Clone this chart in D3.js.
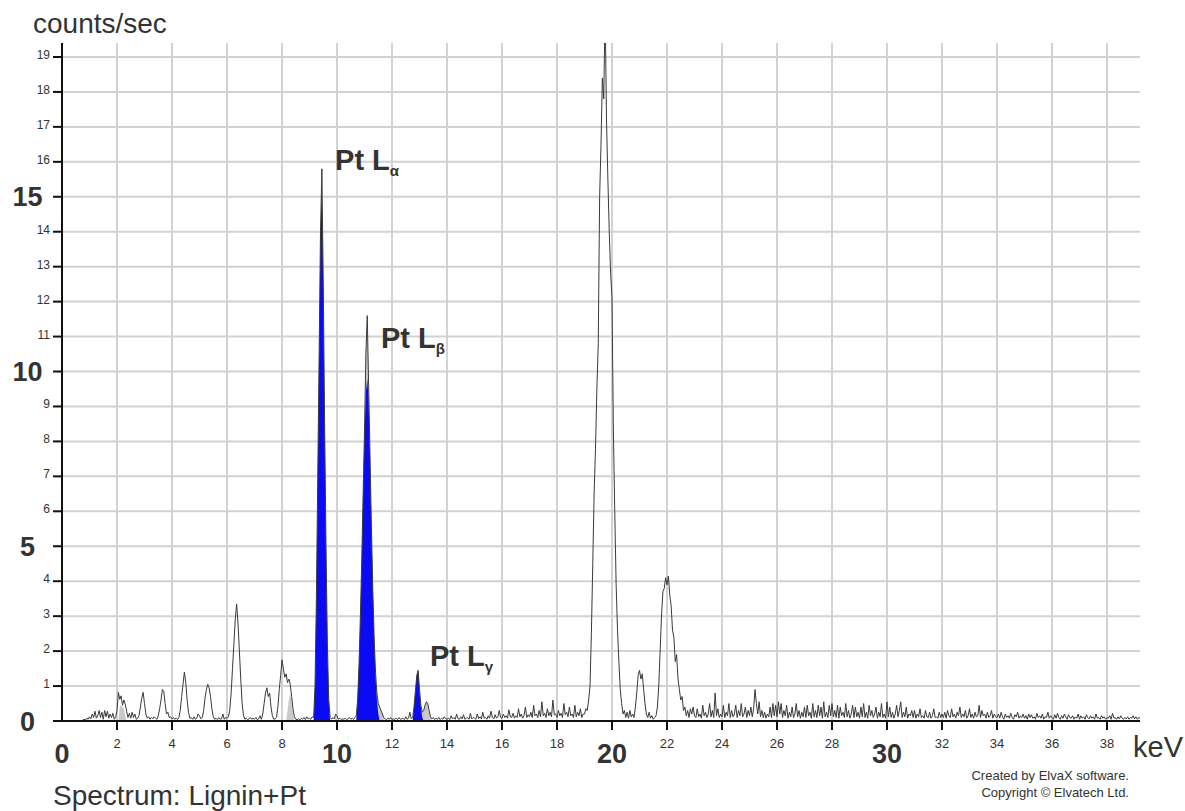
<!DOCTYPE html>
<html>
<head>
<meta charset="utf-8">
<script src="https://cdn.jsdelivr.net/npm/d3@7"></script>
<style>
  html, body { margin: 0; padding: 0; background: #fff; }
  svg { display: block; }
  text { font-family: "Liberation Sans", Arial, sans-serif; fill: #333; }
</style>
</head>
<body>
<svg id="chart" width="1185" height="811"></svg>
<script>
// ---------------- DATA ----------------
const energyStep = 0.05;           // keV per channel
const energyStart = 0;             // keV of first channel
// counts/sec per channel, 0.00 .. 39.20 keV
const counts = [
  // 0 keV
  0,0,0,0,0,0,0,0,0,0,0,0,0,0,0,0.02,0.05,0.03,0.08,0.05,
  // 1
  0.12,0.06,0.2,0.1,0.28,0.08,0.15,0.3,0.1,0.25,0.05,0.3,0.12,0.28,0.08,0.2,0.1,0.22,0.05,0.12,
  // 2
  0.3,0.82,0.62,0.72,0.45,0.6,0.48,0.28,0.1,0.22,0.08,0.25,0.1,0.2,0.05,0.08,0.15,0.4,0.65,0.82,
  // 3
  0.5,0.2,0.08,0.12,0.05,0.1,0.06,0.12,0.08,0.05,0.15,0.35,0.6,0.9,0.85,0.5,0.2,0.25,0.1,0.12,
  // 4
  0.06,0.1,0.05,0.08,0.04,0.1,0.3,0.7,1.05,1.4,1.1,0.6,0.25,0.08,0.1,0.05,0.12,0.05,0.08,0.2,
  // 5
  0.15,0.06,0.1,0.3,0.65,0.9,1.05,0.95,0.7,0.35,0.12,0.05,0.08,0.04,0.1,0.05,0.06,0.2,0.05,0.1,
  // 6
  0.08,0.12,0.3,0.8,1.5,2.2,2.9,3.35,2.8,2.0,1.2,0.5,0.15,0.05,0.08,0.04,0.06,0.1,0.05,0.08,
  // 7
  0.05,0.1,0.04,0.06,0.15,0.05,0.2,0.5,0.8,0.95,0.7,0.8,0.4,0.15,0.05,0.06,0.1,0.4,0.9,1.3,
  // 8
  1.75,1.5,1.25,1.35,1.1,1.2,1.05,0.7,0.35,0.12,0.05,0.04,0.06,0.03,0.08,0.05,0.1,0.04,0.12,0.06,
  // 9
  0.08,0.05,0.12,0.1,1.0,3.5,7.0,10.5,14.0,15.8,12.5,8.5,5.0,2.2,0.6,0.1,0.05,0.1,0.06,0.2,
  // 10
  0.15,0.05,0.08,0.04,0.06,0.05,0.08,0.04,0.06,0.1,0.05,0.08,0.04,0.1,0.15,0.6,1.6,3.0,4.6,6.5,
  // 11
  8.3,10.5,11.6,9.6,7.6,5.6,3.8,2.4,1.4,0.8,0.5,0.4,0.3,0.2,0.1,0.06,0.04,0.08,0.05,0.1,
  // 12
  0.04,0.06,0.05,0.08,0.04,0.1,0.05,0.06,0.08,0.04,0.12,0.05,0.08,0.25,0.06,0.1,0.4,0.85,1.3,1.45,
  // 13
  0.9,0.45,0.25,0.3,0.45,0.55,0.5,0.3,0.12,0.06,0.1,0.04,0.08,0.05,0.1,0.04,0.08,0.05,0.12,0.06,
  // 14
  0.05,0.08,0.04,0.15,0.06,0.1,0.05,0.2,0.07,0.05,0.12,0.06,0.18,0.05,0.08,0.1,0.05,0.22,0.06,0.1,
  // 15
  0.08,0.05,0.2,0.07,0.12,0.06,0.25,0.08,0.1,0.05,0.15,0.08,0.28,0.1,0.06,0.18,0.08,0.12,0.3,0.1,
  // 16
  0.08,0.2,0.1,0.15,0.08,0.32,0.12,0.1,0.22,0.08,0.15,0.1,0.35,0.12,0.2,0.08,0.15,0.4,0.1,0.18,
  // 17
  0.12,0.25,0.1,0.45,0.15,0.2,0.1,0.3,0.12,0.55,0.15,0.22,0.1,0.35,0.15,0.25,0.12,0.6,0.18,0.2,
  // 18
  0.1,0.3,0.15,0.22,0.1,0.5,0.18,0.25,0.12,0.4,0.15,0.2,0.1,0.45,0.12,0.25,0.15,0.35,0.1,0.2,
  // 19
  0.2,0.35,0.3,0.6,1.0,2.5,4.5,6.5,7.8,9.5,10.8,15.0,16.5,18.4,17.8,20.5,17.2,15.5,14.0,12.8,
  // 20
  12.1,8.3,6.0,3.9,2.6,1.7,0.9,0.5,0.2,0.3,0.1,0.25,0.08,0.3,0.12,0.2,0.1,0.4,0.8,1.3,
  // 21
  1.45,1.2,1.35,0.9,0.5,0.2,0.1,0.25,0.08,0.15,0.05,0.1,0.15,0.4,1.0,2.0,3.0,3.7,3.8,4.1,
  // 22
  3.9,4.15,3.6,3.3,2.6,2.4,1.7,1.9,1.2,0.9,0.6,0.7,0.3,0.4,0.15,0.3,0.1,0.35,0.2,0.4,
  // 23
  0.15,0.1,0.35,0.12,0.2,0.08,0.45,0.15,0.25,0.1,0.2,0.5,0.12,0.3,0.1,0.8,0.15,0.35,0.1,0.2,
  // 24
  0.12,0.45,0.1,0.25,0.15,0.5,0.1,0.3,0.12,0.2,0.45,0.1,0.3,0.15,0.5,0.12,0.2,0.4,0.1,0.3,
  // 25
  0.15,0.4,0.12,0.35,0.9,0.5,0.2,0.55,0.12,0.3,0.1,0.25,0.08,0.2,0.12,0.4,0.1,0.5,0.15,0.45,
  // 26
  0.12,0.55,0.2,0.5,0.1,0.3,0.15,0.45,0.08,0.25,0.12,0.4,0.1,0.2,0.5,0.12,0.3,0.08,0.25,0.12,
  // 27
  0.4,0.1,0.45,0.15,0.25,0.08,0.5,0.12,0.3,0.1,0.45,0.15,0.4,0.08,0.55,0.12,0.25,0.1,0.45,0.15,
  // 28
  0.5,0.12,0.3,0.1,0.45,0.08,0.4,0.15,0.25,0.1,0.5,0.12,0.3,0.08,0.2,0.45,0.1,0.4,0.12,0.25,
  // 29
  0.08,0.4,0.12,0.5,0.1,0.25,0.08,0.45,0.15,0.3,0.1,0.2,0.4,0.08,0.25,0.12,0.5,0.1,0.2,0.08,
  // 30
  0.55,0.12,0.4,0.1,0.25,0.08,0.2,0.45,0.12,0.3,0.55,0.1,0.25,0.12,0.4,0.08,0.2,0.15,0.3,0.1,
  // 31
  0.3,0.08,0.2,0.12,0.35,0.1,0.15,0.08,0.3,0.12,0.1,0.25,0.08,0.15,0.35,0.1,0.12,0.08,0.25,0.1,
  // 32
  0.2,0.1,0.25,0.08,0.3,0.15,0.1,0.35,0.12,0.2,0.08,0.25,0.15,0.4,0.1,0.2,0.12,0.3,0.08,0.15,
  // 33
  0.35,0.1,0.2,0.08,0.25,0.12,0.15,0.45,0.1,0.3,0.15,0.2,0.08,0.25,0.1,0.15,0.3,0.08,0.2,0.12,
  // 34
  0.1,0.2,0.08,0.25,0.12,0.05,0.2,0.1,0.15,0.08,0.22,0.1,0.05,0.18,0.12,0.25,0.08,0.15,0.1,0.2,
  // 35
  0.08,0.15,0.05,0.2,0.1,0.18,0.08,0.12,0.05,0.22,0.1,0.15,0.08,0.2,0.05,0.12,0.1,0.25,0.08,0.15,
  // 36
  0.1,0.05,0.18,0.08,0.22,0.1,0.05,0.15,0.08,0.2,0.12,0.05,0.18,0.1,0.08,0.15,0.05,0.12,0.08,0.2,
  // 37
  0.05,0.15,0.08,0.12,0.05,0.18,0.1,0.06,0.15,0.08,0.12,0.05,0.2,0.08,0.1,0.05,0.15,0.08,0.12,0.05,
  // 38
  0.1,0.08,0.15,0.05,0.22,0.08,0.1,0.05,0.12,0.06,0.15,0.08,0.05,0.1,0.06,0.12,0.05,0.1,0.08,0.15,
  // 39
  0.06,0.12,0.05,0.1,0.08
];

// Fitted Pt L-line components (blue), each: start keV, values every 0.05 keV
const ptLaStart = 9.15;
const ptLaFit = [0,1.0,3.5,7.0,10.5,14.0,15.3,12.5,8.5,5.0,2.2,0.6,0];
const ptLbStart = 10.7;
const ptLbFit = [0,0.6,1.6,3.0,4.6,6.5,8.3,9.4,9.8,9.2,7.6,5.6,3.8,2.4,1.3,0.6,0.2,0];
const ptLgStart = 12.75;
const ptLgFit = [0,0.4,0.85,1.3,1.45,0.9,0.4,0.1,0];

// Other identified components (grey)
const grey1Start = 2.05;
const grey1Fit = [0,0.4,0.45,0.4,0.35,0.15,0];
const grey2Start = 8.15;
const grey2Fit = [0,0.3,0.6,0.8,0.55,0.2,0];
const grey3Start = 9.9;
const grey3Fit = [0,0.15,0.05,0];
const grey4Start = 10.7;
const grey4Fit = [0.15,0.6,1.6,3.0,4.6,6.5,8.3,10.5,11.6,9.6,7.6,5.6,3.8,2.4,1.4,0.8,0.5,0.4,0.3,0.2,0.1,0];
const grey5Start = 13.05;
const grey5Fit = [0.45,0.25,0.3,0.45,0.55,0.5,0.3,0.12,0];

// Axis ticks
const xMinorTicks = [2,4,6,8,12,14,16,18,22,24,26,28,32,34,36,38];
const xMajorTicks = [0,10,20,30];
const yMinorTicks = [1,2,3,4,6,7,8,9,11,12,13,14,16,17,18,19];
const yMajorTicks = [0,5,10,15];
const xGrid = [2,4,6,8,10,12,14,16,18,20,22,24,26,28,30,32,34,36,38];
const yGrid = [1,2,3,4,5,6,7,8,9,10,11,12,13,14,15,16,17,18,19];

const peakLabels = [
  { main: "Pt L", sub: "α", keV: 9.93, value: 15.77 },
  { main: "Pt L", sub: "β", keV: 11.6, value: 10.67 },
  { main: "Pt L", sub: "γ", keV: 13.38, value: 1.58 }
];

// ---------------- CHART ----------------
const svg = d3.select("#chart");
const x = d3.scaleLinear().domain([0, 39.2]).range([62, 1140]);
const y = d3.scaleLinear().domain([0, 19.4]).range([721, 43]);

svg.append("defs").append("clipPath").attr("id", "plotClip")
  .append("rect").attr("x", x(0)).attr("y", y(19.4))
  .attr("width", x(39.2) - x(0)).attr("height", y(0) - y(19.4));

// grid
const grid = svg.append("g").attr("stroke", "#d2d2d2").attr("stroke-width", 2);
grid.selectAll("line.v").data(xGrid).join("line").attr("class", "v")
  .attr("x1", d => x(d)).attr("x2", d => x(d)).attr("y1", y(19.4)).attr("y2", y(0));
grid.selectAll("line.h").data(yGrid).join("line").attr("class", "h")
  .attr("x1", x(0)).attr("x2", x(39.2)).attr("y1", d => y(d)).attr("y2", d => y(d));

function toPts(start, vals) {
  return vals.map((v, i) => [start + i * energyStep, v]);
}
const area = d3.area().x(d => x(d[0])).y0(y(0)).y1(d => y(d[1]));
const line = d3.line().x(d => x(d[0])).y(d => y(d[1]));

const plot = svg.append("g").attr("clip-path", "url(#plotClip)");

[[grey1Start, grey1Fit],[grey2Start, grey2Fit],[grey3Start, grey3Fit],[grey4Start, grey4Fit],[grey5Start, grey5Fit]]
  .forEach(([s, v]) => plot.append("path").attr("d", area(toPts(s, v))).attr("fill", "#c9c9c9"));

[[ptLaStart, ptLaFit],[ptLbStart, ptLbFit],[ptLgStart, ptLgFit]]
  .forEach(([s, v]) => plot.append("path").attr("d", area(toPts(s, v))).attr("fill", "#0a0af5"));

plot.append("path").attr("d", line(toPts(energyStart, counts)))
  .attr("fill", "none").attr("stroke", "#3a3a3a").attr("stroke-width", 1);

// axes
const ax = svg.append("g").attr("stroke", "#111").attr("stroke-width", 2);
ax.append("line").attr("x1", x(0)).attr("x2", x(0)).attr("y1", y(19.4)).attr("y2", y(0) + 1);
ax.append("line").attr("x1", x(0) - 9).attr("x2", x(39.2)).attr("y1", y(0)).attr("y2", y(0));
ax.selectAll("line.yt").data(yMinorTicks.concat(yMajorTicks.filter(d => d > 0))).join("line")
  .attr("class", "yt").attr("x1", x(0) - 9).attr("x2", x(0)).attr("y1", d => y(d)).attr("y2", d => y(d));
ax.selectAll("line.xt").data(xMinorTicks.concat(xMajorTicks.filter(d => d > 0))).join("line")
  .attr("class", "xt").attr("x1", d => x(d)).attr("x2", d => x(d)).attr("y1", y(0)).attr("y2", y(0) + 9);

// tick labels
svg.selectAll("text.ym").data(yMinorTicks).join("text").attr("class", "ym")
  .attr("x", 50).attr("y", d => y(d) + 2).attr("text-anchor", "end")
  .attr("font-size", 12).text(d => d);
svg.selectAll("text.yM").data(yMajorTicks).join("text").attr("class", "yM")
  .attr("x", 27.5).attr("y", d => y(d) + 9.5).attr("text-anchor", "middle")
  .attr("font-size", 27).attr("font-weight", "bold").text(d => d);
svg.selectAll("text.xm").data(xMinorTicks).join("text").attr("class", "xm")
  .attr("x", d => x(d)).attr("y", 748).attr("text-anchor", "middle")
  .attr("font-size", 13).text(d => d);
svg.selectAll("text.xM").data(xMajorTicks).join("text").attr("class", "xM")
  .attr("x", d => x(d)).attr("y", 763).attr("text-anchor", "middle")
  .attr("font-size", 27).attr("font-weight", "bold").text(d => d);

// titles
svg.append("text").attr("x", 33).attr("y", 33).attr("font-size", 28).text("counts/sec");
svg.append("text").attr("x", 1133).attr("y", 757).attr("font-size", 29).text("keV");
svg.append("text").attr("x", 53).attr("y", 805).attr("font-size", 28).text("Spectrum: Lignin+Pt");
svg.append("text").attr("x", 1129).attr("y", 780).attr("text-anchor", "end").attr("font-size", 13)
  .text("Created by ElvaX software.");
svg.append("text").attr("x", 1129).attr("y", 797).attr("text-anchor", "end").attr("font-size", 13)
  .text("Copyright © Elvatech Ltd.");

// peak labels
peakLabels.forEach(p => {
  const t = svg.append("text").attr("x", x(p.keV)).attr("y", y(p.value))
    .attr("font-size", 29).attr("font-weight", "bold").attr("fill", "#222");
  t.append("tspan").text(p.main);
  t.append("tspan").attr("font-size", 15).attr("dy", 6).text(p.sub);
});
</script>
</body>
</html>
